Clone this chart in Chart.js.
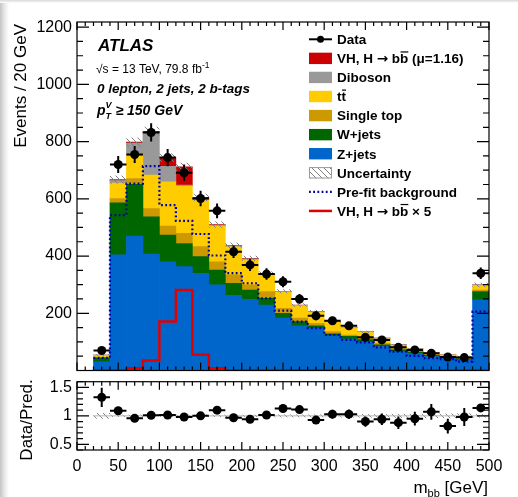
<!DOCTYPE html>
<html>
<head>
<meta charset="utf-8">
<script src="https://cdn.jsdelivr.net/npm/chart.js@4.4.1/dist/chart.umd.min.js"></script>
<style>
  html, body { margin: 0; padding: 0; background: #fff; }
  #wrap { position: relative; width: 518px; height: 497px; overflow: hidden; background: #fff; }
  #main { position: absolute; left: 0; top: 0; }
  #ratio { position: absolute; left: 0; top: 376px; }
  #edge { position: absolute; left: 0; top: 0; width: 9px; height: 497px;
          background: linear-gradient(to right, #c4c4c4, #e4e4e4 45%, #fff); }
  #topedge { position: absolute; left: 0; top: 0; width: 518px; height: 3px;
          background: linear-gradient(to bottom, #d8d8d8, #fff); }
</style>
</head>
<body>
<div id="wrap">
  <canvas id="main" width="518" height="376"></canvas>
  <canvas id="ratio" width="518" height="121"></canvas>
  <div id="edge"></div>
  <div id="topedge"></div>
</div>
<script>
// m_bb bins, 20 GeV wide (low edges)
const binLow = [20, 40, 60, 80, 100, 120, 140, 160, 180, 200, 220, 240,
                260, 280, 300, 320, 340, 360, 380, 400, 420, 440, 460, 480];
const BIN_W = 20;

// stacked post-fit components (events per bin)
const zJets     = [30, 404, 470, 407, 380, 363, 340, 299, 263, 249, 229, 183, 156, 148, 121, 110, 101, 84, 66, 60, 49, 43, 37, 247];
const wJets     = [14, 182, 181, 130, 93, 81, 58, 52, 42, 32, 23, 17, 15, 8, 7, 9, 7, 6, 6, 4, 4, 3, 3, 29];
const singleTop = [2, 15, 20, 29, 32, 35, 35, 29, 29, 18, 24, 17, 12, 9, 8, 5, 5, 5, 5, 3, 3, 3, 3, 5];
const ttbar     = [6, 54, 78, 117, 154, 165, 162, 125, 98, 88, 58, 57, 43, 39, 33, 25, 20, 16, 11, 8, 6, 5, 5, 16];
const diboson   = [2, 9, 46, 147, 55, 4, 3, 2, 3, 3, 3, 2, 2, 2, 2, 2, 2, 2, 2, 1, 1, 1, 1, 2];
const vhSignal  = [0, 3, 3, 6, 30, 64, 7, 3, 2, 2, 1, 1, 1, 1, 0, 0, 0, 0, 0, 0, 0, 0, 0, 0];
const uncert    = [3, 14, 16, 16, 15, 14, 13, 11, 10, 9, 8, 7, 6, 5, 5, 4, 4, 3, 3, 3, 3, 3, 3, 8];

const dataVals  = [70, 720, 755, 832, 744, 691, 601, 558, 415, 369, 337, 310, 250, 191, 174, 156, 116, 107, 81, 72, 60, 47, 45, 340];
const dataErr   = [9, 30, 30, 32, 30, 29, 27, 26, 22, 21, 20, 19, 17, 15, 14, 13, 12, 11, 10, 9, 9, 8, 8, 20];

const prefit    = [44, 543, 653, 714, 578, 523, 477, 402, 340, 305, 252, 209, 171, 148, 124, 107, 98, 81, 66, 51, 43, 40, 31, 206];
const signalX5  = [0, 0, 8, 35, 171, 281, 55, 8, 0, 0, 0, 0, 0, 0, 0, 0, 0, 0, 0, 0, 0, 0, 0, 0];

// lower panel
const ratioVals = [1.325, 1.09, 0.956, 1.01, 1.014, 0.98, 1.0, 1.10, 0.967, 0.94, 1.014, 1.13, 1.11, 0.926, 1.03, 1.03, 0.90, 0.94, 0.88, 0.95, 1.07, 0.82, 0.98, 1.14];
const ratioErr  = [0.17, 0.04, 0.035, 0.035, 0.035, 0.035, 0.04, 0.045, 0.05, 0.05, 0.055, 0.06, 0.065, 0.07, 0.075, 0.08, 0.09, 0.1, 0.11, 0.12, 0.14, 0.13, 0.16, 0.06];
const ratioBand = [0.05, 0.02, 0.02, 0.02, 0.02, 0.02, 0.02, 0.02, 0.02, 0.02, 0.025, 0.025, 0.025, 0.025, 0.03, 0.03, 0.03, 0.03, 0.035, 0.035, 0.04, 0.04, 0.045, 0.03];

const mainYTicks = [200, 400, 600, 800, 1000, 1200];
const ratioYTicks = [0.5, 1, 1.5];

const COL = {
  vh: '#cc0000', diboson: '#999999', ttbar: '#ffcc00', stop: '#cc9900',
  wjets: '#006600', zjets: '#0066cc', prefit: '#0000a8', sig: '#e00000'
};
const FONT = "'Liberation Sans', Arial, Helvetica, sans-serif";
Chart.defaults.font.family = FONT;
Chart.defaults.color = '#000';

const centers = binLow.map(l => l + BIN_W / 2);
const total = zJets.map((_, i) => zJets[i] + wJets[i] + singleTop[i] + ttbar[i] + diboson[i] + vhSignal[i]);

function stepPoints(vals) {
  const pts = vals.map((v, i) => ({ x: binLow[i], y: v }));
  pts.push({ x: binLow[binLow.length - 1] + BIN_W, y: vals[vals.length - 1] });
  return pts;
}
function barSet(label, vals, color) {
  return {
    type: 'bar', label, backgroundColor: color, borderWidth: 0,
    data: vals.map((v, i) => ({ x: centers[i], y: v })),
    barPercentage: 1, categoryPercentage: 1, stack: 'mc'
  };
}
function hatchPattern(ctx) {
  const c = document.createElement('canvas');
  c.width = 6; c.height = 6;
  const g = c.getContext('2d');
  g.strokeStyle = '#808080'; g.lineWidth = 1;
  g.beginPath();
  g.moveTo(-3, 3); g.lineTo(3, 9);
  g.moveTo(0, 0); g.lineTo(6, 6);
  g.moveTo(3, -3); g.lineTo(9, 3);
  g.stroke();
  return ctx.createPattern(c, 'repeat');
}
function eachTick(min, max, minor, major, cb) {
  for (let k = Math.ceil(min / minor - 1e-9); k * minor <= max + 1e-9; k++) {
    const v = k * minor;
    cb(v, Math.abs(v / major - Math.round(v / major)) < 1e-6);
  }
}
// text with sub/superscripts and overlines
function rich(ctx, x, y, parts) {
  for (const p of parts) {
    ctx.font = p.font;
    ctx.fillText(p.t, x, y + (p.dy || 0));
    const w = ctx.measureText(p.t).width;
    if (p.bar) ctx.fillRect(x + 0.5, y - p.bar, w - 0.5, 1.2);
    if (!p.keep) x += w;
  }
  return x;
}

const frameTicks = {
  id: 'frameTicks',
  afterDraw(chart, args, o) {
    const { ctx, chartArea: a, scales: { x, y } } = chart;
    ctx.save();
    ctx.strokeStyle = '#000';
    ctx.lineWidth = 1.2;
    ctx.beginPath();
    eachTick(x.min, x.max, 10, 50, (v, maj) => {
      const px = x.getPixelForValue(v);
      const l = maj ? o.xMaj : o.xMin;
      ctx.moveTo(px, a.bottom); ctx.lineTo(px, a.bottom - l);
      ctx.moveTo(px, a.top); ctx.lineTo(px, a.top + l);
    });
    eachTick(y.min, y.max, o.yMinor, o.yMajor, (v, maj) => {
      const py = y.getPixelForValue(v);
      const l = maj ? o.yMaj : o.yMin;
      ctx.moveTo(a.left, py); ctx.lineTo(a.left + l, py);
      ctx.moveTo(a.right, py); ctx.lineTo(a.right - l, py);
    });
    ctx.stroke();
    ctx.strokeRect(a.left, a.top, a.right - a.left, a.bottom - a.top);
    ctx.restore();
  }
};

const legendLabels = ['Data', 'VH, H \u2192 bb (\u03BC=1.16)', 'Diboson', 'tt', 'Single top', 'W+jets',
                      'Z+jets', 'Uncertainty', 'Pre-fit background', 'VH, H \u2192 bb \u00D7 5'];

const mainDecor = {
  id: 'mainDecor',
  afterDatasetDraw(chart, args) {
    if (args.index !== 3) return;   // after the whole stack is drawn
    const { ctx, scales: { x, y } } = chart;
    ctx.save();
    ctx.fillStyle = hatchPattern(ctx);
    total.forEach((t, i) => {
      const x0 = x.getPixelForValue(binLow[i]), x1 = x.getPixelForValue(binLow[i] + BIN_W);
      const y0 = y.getPixelForValue(t + uncert[i]), y1 = y.getPixelForValue(t - uncert[i]);
      ctx.fillRect(x0, y0, x1 - x0, y1 - y0);
    });
    ctx.restore();
  },
  afterDatasetsDraw(chart) {
    const { ctx, scales: { x, y } } = chart;
    ctx.save();
    ctx.strokeStyle = '#000'; ctx.lineWidth = 2;
    ctx.beginPath();
    dataVals.forEach((v, i) => {
      const py = y.getPixelForValue(v);
      ctx.moveTo(x.getPixelForValue(binLow[i]), py);
      ctx.lineTo(x.getPixelForValue(binLow[i] + BIN_W), py);
      const px = x.getPixelForValue(centers[i]);
      ctx.moveTo(px, y.getPixelForValue(v + dataErr[i]));
      ctx.lineTo(px, y.getPixelForValue(Math.max(0, v - dataErr[i])));
    });
    ctx.stroke();
    ctx.restore();
  },
  afterDraw(chart) {
    const { ctx } = chart;
    ctx.save();
    ctx.fillStyle = '#000';
    // y title
    ctx.save();
    ctx.translate(21, 24);
    ctx.rotate(-Math.PI / 2);
    ctx.textAlign = 'right'; ctx.textBaseline = 'middle';
    ctx.font = `17px ${FONT}`;
    ctx.fillText('Events / 20 GeV', 0, 0);
    ctx.restore();

    ctx.textAlign = 'left'; ctx.textBaseline = 'alphabetic';
    const bi = s => `italic bold ${s}px ${FONT}`;
    const rg = s => `${s}px ${FONT}`;
    ctx.font = bi(17);
    ctx.fillText('ATLAS', 98, 51);
    rich(ctx, 96, 73, [
      { t: '\u221As = 13 TeV, 79.8 fb', font: rg(12) },
      { t: '-1', font: rg(8.5), dy: -5 }
    ]);
    ctx.font = bi(13.5);
    ctx.fillText('0 lepton, 2 jets, 2 b-tags', 97, 93);
    rich(ctx, 97, 115, [
      { t: 'p', font: bi(14) },
      { t: 'T', font: bi(9), dy: 4, keep: true },
      { t: 'V', font: bi(9), dy: -7 },
      { t: ' \u2265 150 GeV', font: bi(14) }
    ]);

    // legend
    const lx = 309, bw = 23, tx = 337;
    const rowY = i => 39.3 + 19.07 * i;
    const f = `bold 13.5px ${FONT}`;
    const arrowFont = `bold 13.5px 'DejaVu Sans', ${FONT}`;
    const label = (i, parts) => rich(ctx, tx, rowY(i) + 4.8, parts);
    const box = (i, fill, stroke) => {
      ctx.fillStyle = fill;
      ctx.fillRect(lx, rowY(i) - 5.7, bw, 11.4);
      if (stroke) { ctx.strokeStyle = stroke; ctx.lineWidth = 1; ctx.strokeRect(lx + 0.5, rowY(i) - 5.2, bw - 1, 10.4); }
      ctx.fillStyle = '#000';
    };
    // Data
    ctx.strokeStyle = '#000'; ctx.lineWidth = 2;
    ctx.beginPath(); ctx.moveTo(lx, rowY(0)); ctx.lineTo(lx + bw, rowY(0)); ctx.stroke();
    ctx.beginPath(); ctx.arc(lx + bw / 2, rowY(0), 3.5, 0, Math.PI * 2); ctx.fill();
    label(0, [{ t: legendLabels[0], font: f }]);
    box(1, COL.vh);
    label(1, [{ t: 'VH, H ', font: f }, { t: '\u2192', font: arrowFont }, { t: ' b', font: f },
              { t: 'b', font: f, bar: 11.8 }, { t: ' (\u03BC=1.16)', font: f }]);
    box(2, COL.diboson);
    label(2, [{ t: legendLabels[2], font: f }]);
    box(3, COL.ttbar);
    label(3, [{ t: 't', font: f }, { t: 't', font: f, bar: 11.8 }]);
    box(4, COL.stop);
    label(4, [{ t: legendLabels[4], font: f }]);
    box(5, COL.wjets);
    label(5, [{ t: legendLabels[5], font: f }]);
    box(6, COL.zjets);
    label(6, [{ t: legendLabels[6], font: f }]);
    box(7, hatchPattern(ctx), '#9a9a9a');
    label(7, [{ t: legendLabels[7], font: f }]);
    ctx.strokeStyle = COL.prefit; ctx.lineWidth = 2.2; ctx.setLineDash([1.8, 2.4]);
    ctx.beginPath(); ctx.moveTo(lx, rowY(8)); ctx.lineTo(lx + bw, rowY(8)); ctx.stroke();
    ctx.setLineDash([]);
    label(8, [{ t: legendLabels[8], font: f }]);
    ctx.strokeStyle = COL.sig; ctx.lineWidth = 2.5;
    ctx.beginPath(); ctx.moveTo(lx, rowY(9)); ctx.lineTo(lx + bw, rowY(9)); ctx.stroke();
    label(9, [{ t: 'VH, H ', font: f }, { t: '\u2192', font: arrowFont }, { t: ' b', font: f },
              { t: 'b', font: f, bar: 11.8 }, { t: ' \u00D7 5', font: f }]);
    ctx.restore();
  }
};

new Chart(document.getElementById('main'), {
  data: {
    datasets: [
      { type: 'line', label: 'Data', data: dataVals.map((v, i) => ({ x: centers[i], y: v })),
        showLine: false, pointRadius: 4.5, pointBackgroundColor: '#000', pointBorderWidth: 0, stack: 'data' },
      { type: 'line', label: 'VH x5', data: stepPoints(signalX5), stepped: true, borderColor: COL.sig,
        borderWidth: 2.5, pointRadius: 0, fill: false, stack: 'sig' },
      { type: 'line', label: 'Pre-fit background', data: stepPoints(prefit), stepped: true, borderColor: COL.prefit,
        borderWidth: 2.2, borderDash: [1.8, 2.4], pointRadius: 0, fill: false, stack: 'pre' },
      barSet('Z+jets', zJets, COL.zjets),
      barSet('W+jets', wJets, COL.wjets),
      barSet('Single top', singleTop, COL.stop),
      barSet('ttbar', ttbar, COL.ttbar),
      barSet('Diboson', diboson, COL.diboson),
      barSet('VH', vhSignal, COL.vh)
    ]
  },
  options: {
    responsive: false, animation: false, devicePixelRatio: 1, events: [],
    layout: { padding: { left: 0, right: 29, top: 22, bottom: 5.5 } },
    scales: {
      x: { type: 'linear', min: 0, max: 500, offset: false, stacked: true, display: false },
      y: {
        min: 0, max: 1218, stacked: true,
        grid: { display: false, drawTicks: false }, border: { display: false },
        ticks: { font: { size: 16 }, color: '#000', padding: 5, callback: v => String(v) },
        afterBuildTicks: s => { s.ticks = mainYTicks.map(v => ({ value: v })); },
        afterFit: s => { s.width = 77; s.paddingTop = 0; s.paddingBottom = 0; }
      }
    },
    plugins: {
      legend: { display: false }, tooltip: { enabled: false },
      frameTicks: { xMaj: 8, xMin: 4, yMajor: 200, yMinor: 50, yMaj: 12, yMin: 6 }
    }
  },
  plugins: [mainDecor, frameTicks]
});

const ratioDecor = {
  id: 'ratioDecor',
  beforeDatasetsDraw(chart) {
    const { ctx, scales: { x, y } } = chart;
    ctx.save();
    ctx.fillStyle = hatchPattern(ctx);
    ratioBand.forEach((b, i) => {
      const x0 = x.getPixelForValue(binLow[i]), x1 = x.getPixelForValue(binLow[i] + BIN_W);
      const y0 = y.getPixelForValue(1 + b), y1 = y.getPixelForValue(1 - b);
      ctx.fillRect(x0, y0, x1 - x0, y1 - y0);
    });
    ctx.strokeStyle = '#b4b4b4'; ctx.lineWidth = 1;
    ctx.beginPath();
    ctx.moveTo(x.getPixelForValue(binLow[0]), y.getPixelForValue(1));
    ctx.lineTo(x.getPixelForValue(binLow[binLow.length - 1] + BIN_W), y.getPixelForValue(1));
    ctx.stroke();
    ctx.restore();
  },
  afterDatasetsDraw(chart) {
    const { ctx, scales: { x, y } } = chart;
    ctx.save();
    ctx.strokeStyle = '#000'; ctx.lineWidth = 2;
    ctx.beginPath();
    ratioVals.forEach((v, i) => {
      const py = y.getPixelForValue(v);
      ctx.moveTo(x.getPixelForValue(binLow[i]), py);
      ctx.lineTo(x.getPixelForValue(binLow[i] + BIN_W), py);
      const px = x.getPixelForValue(centers[i]);
      ctx.moveTo(px, y.getPixelForValue(v + ratioErr[i]));
      ctx.lineTo(px, y.getPixelForValue(v - ratioErr[i]));
    });
    ctx.stroke();
    ctx.restore();
  },
  afterDraw(chart) {
    const { ctx } = chart;
    ctx.save();
    ctx.fillStyle = '#000';
    ctx.save();
    ctx.translate(27, 44);
    ctx.rotate(-Math.PI / 2);
    ctx.textAlign = 'center'; ctx.textBaseline = 'middle';
    ctx.font = `17px ${FONT}`;
    ctx.fillText('Data/Pred.', 0, 0);
    ctx.restore();
    // x title: m_bb [GeV], right aligned to the frame
    ctx.textBaseline = 'alphabetic'; ctx.textAlign = 'left';
    const parts = [
      { t: 'm', font: `17px ${FONT}` },
      { t: 'bb', font: `11px ${FONT}`, dy: 4 },
      { t: ' [GeV]', font: `17px ${FONT}` }
    ];
    let w = 0;
    parts.forEach(p => { ctx.font = p.font; w += ctx.measureText(p.t).width; });
    rich(ctx, 488 - w, 116.5, parts);
    ctx.restore();
  }
};

new Chart(document.getElementById('ratio'), {
  type: 'line',
  data: {
    datasets: [
      { label: 'Data/Pred.', data: ratioVals.map((v, i) => ({ x: centers[i], y: v })),
        showLine: false, pointRadius: 4.5, pointBackgroundColor: '#000', pointBorderWidth: 0 }
    ]
  },
  options: {
    responsive: false, animation: false, devicePixelRatio: 1, events: [],
    layout: { padding: { left: 0, right: 29, top: 5.7, bottom: 0 } },
    scales: {
      x: {
        type: 'linear', min: 0, max: 500, offset: false,
        grid: { display: false, drawTicks: false }, border: { display: false },
        ticks: { stepSize: 50, font: { size: 16 }, color: '#000', padding: 7, autoSkip: false, maxRotation: 0 },
        afterFit: s => { s.height = 47; s.paddingLeft = 0; s.paddingRight = 0; }
      },
      y: {
        min: 0.4, max: 1.6,
        grid: { display: false, drawTicks: false }, border: { display: false },
        ticks: { font: { size: 16 }, color: '#000', padding: 5, callback: v => String(v) },
        afterBuildTicks: s => { s.ticks = ratioYTicks.map(v => ({ value: v })); },
        afterFit: s => { s.width = 77; s.paddingTop = 0; s.paddingBottom = 0; }
      }
    },
    plugins: {
      legend: { display: false }, tooltip: { enabled: false },
      frameTicks: { xMaj: 8, xMin: 4, yMajor: 0.5, yMinor: 0.1, yMaj: 12, yMin: 6 }
    }
  },
  plugins: [ratioDecor, frameTicks]
});
</script>
</body>
</html>
